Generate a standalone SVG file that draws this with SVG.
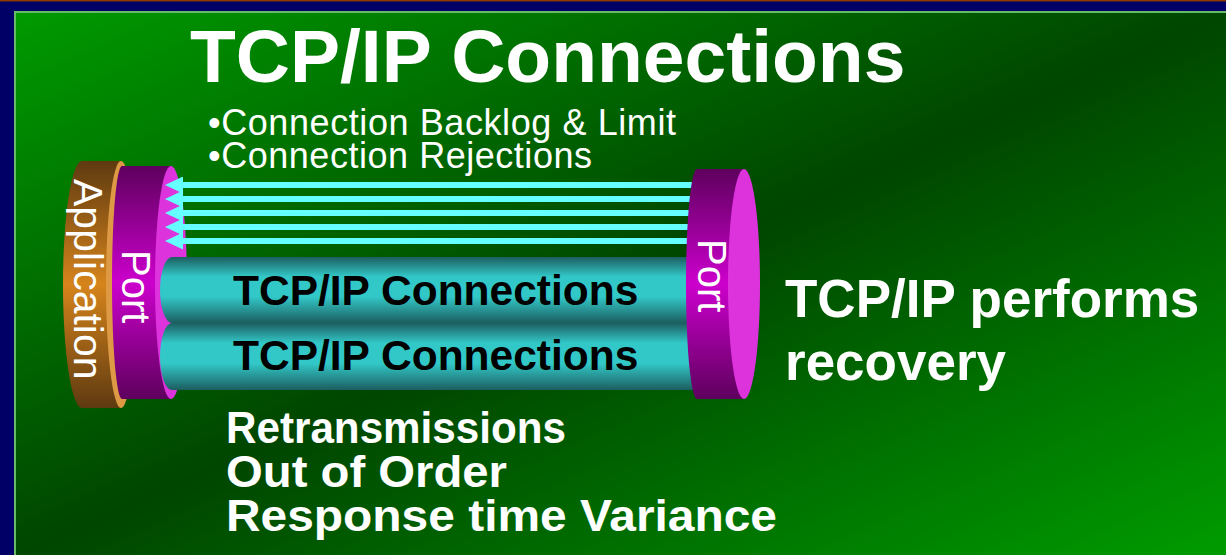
<svg xmlns="http://www.w3.org/2000/svg" width="1226" height="555" viewBox="0 0 1226 555">
  <defs>
    <linearGradient id="panelFill" x1="0" y1="0" x2="1" y2="1">
      <stop offset="0" stop-color="#009a00"/>
      <stop offset="0.5" stop-color="#004600"/>
      <stop offset="1" stop-color="#009c00"/>
    </linearGradient>
    <linearGradient id="brownBody" x1="0" y1="0" x2="0" y2="1">
      <stop offset="0" stop-color="#5e3a10"/>
      <stop offset="0.5" stop-color="#d6841c"/>
      <stop offset="1" stop-color="#5e3a10"/>
    </linearGradient>
    <linearGradient id="purpleBody" x1="0" y1="0" x2="0" y2="1">
      <stop offset="0" stop-color="#5e005e"/>
      <stop offset="0.5" stop-color="#cc00cc"/>
      <stop offset="1" stop-color="#5e005e"/>
    </linearGradient>
    <linearGradient id="tubeFill" x1="0" y1="0" x2="0" y2="1">
      <stop offset="0" stop-color="#1c5e60"/>
      <stop offset="0.3" stop-color="#33c8c8"/>
      <stop offset="0.6" stop-color="#33c8c8"/>
      <stop offset="1" stop-color="#1c5e60"/>
    </linearGradient>
    <marker id="head" viewBox="0 0 18 17" markerWidth="18" markerHeight="17" markerUnits="userSpaceOnUse" refX="0" refY="8.5" orient="auto">
      <path d="M0,0 L18,8.5 L0,17 Z" fill="#66ffff"/>
    </marker>
    <style>
      .sans { font-family: "Liberation Sans", Arial, sans-serif; }
      .white { fill: #ffffff; }
      .bold { font-weight: bold; }
      .flow { stroke: #66ffff; stroke-width: 6; fill: none; marker-end: url(#head); }
      .face { fill: #dd33dd; }
    </style>
  </defs>

  <!-- frame -->
  <rect x="0" y="0" width="1226" height="555" fill="#000066"/>
  <rect x="0" y="0" width="1226" height="1.5" fill="#8a3a00"/>
  <rect x="15" y="12" width="1213" height="545" fill="url(#panelFill)" stroke="#66bb66" stroke-width="2"/>

  <!-- heading -->
  <text class="sans white bold" x="190" y="82" font-size="75">TCP/IP Connections</text>
  <text class="sans white" x="208" y="135" font-size="36" textLength="468">•Connection Backlog &amp; Limit</text>
  <text class="sans white" x="208" y="168" font-size="36" textLength="384">•Connection Rejections</text>

  <!-- application disk -->
  <g id="application">
    <path d="M82,161 A19,123.5 0 0 0 82,408 L121,408 L121,161 Z" fill="url(#brownBody)"/>
    <ellipse cx="121" cy="284.5" rx="15" ry="123.5" fill="#dd9944"/>
    <text class="sans white" font-size="41" transform="translate(74,179) rotate(90)">Application</text>
  </g>

  <!-- local port -->
  <g id="port-left">
    <path d="M122,166 A10,116.5 0 0 0 122,399 L171,399 L171,166 Z" fill="url(#purpleBody)"/>
    <ellipse class="face" cx="171" cy="282.5" rx="16" ry="116.5"/>
    <text class="sans white" font-size="40" transform="translate(122,250) rotate(90)">Port</text>
  </g>

  <!-- rejected connection attempts -->
  <g id="connectors">
    <line class="flow" x1="705" y1="185" x2="183" y2="185"/>
    <line class="flow" x1="705" y1="199" x2="183" y2="199"/>
    <line class="flow" x1="705" y1="213" x2="183" y2="213"/>
    <line class="flow" x1="705" y1="227" x2="183" y2="227"/>
    <line class="flow" x1="705" y1="241" x2="183" y2="241"/>
  </g>

  <!-- established connections -->
  <g id="connection-1">
    <path d="M705,257 L172,257 A12,33 0 0 0 172,323 L705,323 Z" fill="url(#tubeFill)"/>
    <text class="sans bold" x="233" y="305" font-size="42.5" fill="#000000">TCP/IP Connections</text>
  </g>
  <g id="connection-2">
    <path d="M705,323 L172,323 A12,33.5 0 0 0 172,390 L705,390 Z" fill="url(#tubeFill)"/>
    <text class="sans bold" x="233" y="370" font-size="42.5" fill="#000000">TCP/IP Connections</text>
  </g>

  <!-- remote port -->
  <g id="port-right">
    <path d="M697,169 A11,115 0 0 0 697,399 L744,399 L744,169 Z" fill="url(#purpleBody)"/>
    <ellipse class="face" cx="744" cy="284" rx="16" ry="115"/>
    <text class="sans white" font-size="40" transform="translate(698,239) rotate(90)">Port</text>
  </g>

  <!-- notes -->
  <g id="recovery-note">
    <text class="sans white bold" x="785" y="317" font-size="53">TCP/IP performs</text>
    <text class="sans white bold" x="785" y="380" font-size="53">recovery</text>
  </g>
  <g id="symptoms-note">
    <text class="sans white bold" x="226" y="443" font-size="44" textLength="340" lengthAdjust="spacingAndGlyphs">Retransmissions</text>
    <text class="sans white bold" x="226" y="487" font-size="44" textLength="281" lengthAdjust="spacingAndGlyphs">Out of Order</text>
    <text class="sans white bold" x="226" y="531" font-size="44" textLength="551" lengthAdjust="spacingAndGlyphs">Response time Variance</text>
  </g>
</svg>
